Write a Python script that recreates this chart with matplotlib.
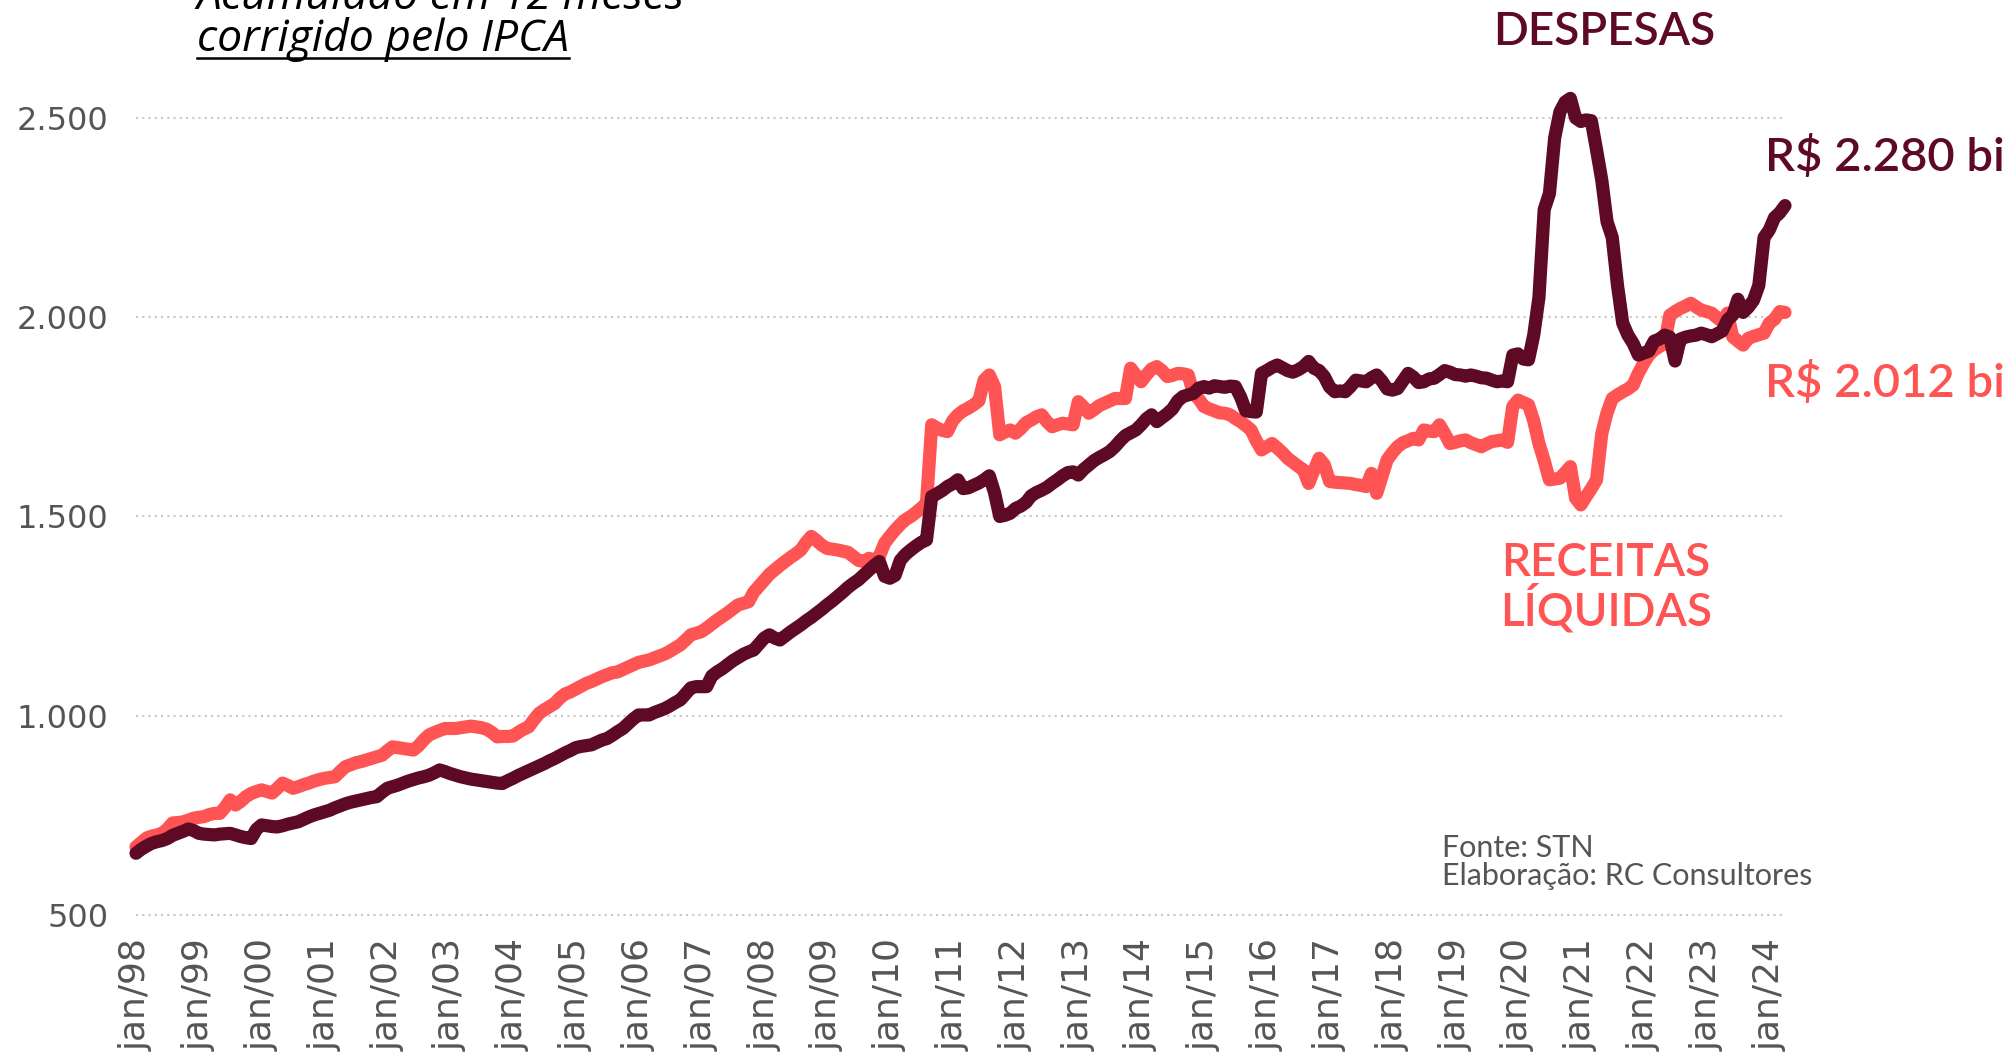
import matplotlib
matplotlib.use('Agg')
import numpy as np
import pandas as pd
import matplotlib.pyplot as plt
from matplotlib.lines import Line2D

# meses: jan/98 .. abr/24
meses = pd.date_range('1998-01-01', periods=316, freq='MS')
rotulos_x = [f"jan/{d.year % 100:02d}" for d in meses if d.month == 1]

y_ticks = [500, 1000, 1500, 2000, 2500]
y_rotulos = ['500', '1.000', '1.500', '2.000', '2.500']

# despesas, acumulado 12 meses (R$ bi, corrigido IPCA)
despesas = [
    655, 665, 673, 680, 684, 687, 692, 700, 705, 710, 716, 712,
    705, 703, 702, 701, 703, 704, 705, 701, 697, 694, 692, 715,
    726, 724, 722, 721, 724, 728, 731, 734, 740, 746, 751, 755,
    759, 763, 769, 774, 779, 783, 786, 789, 792, 795, 797, 808,
    818, 822, 826, 831, 836, 840, 844, 847, 851, 857, 864, 860,
    855, 851, 847, 844, 841, 839, 837, 835, 833, 831, 830, 837,
    843, 850, 856, 862, 868, 874, 880, 887, 893, 900, 907, 913,
    920, 923, 925, 927, 933, 939, 943, 951, 960, 968, 980, 992,
    1002, 1002, 1002, 1008, 1013, 1018, 1025, 1033, 1040, 1055, 1070, 1073,
    1073, 1073, 1100, 1110, 1118, 1128, 1138, 1146, 1154, 1160, 1165, 1180,
    1195, 1203, 1195, 1190, 1200, 1210, 1219, 1228, 1238, 1247, 1257, 1267,
    1278, 1288, 1299, 1310, 1322, 1332, 1341, 1353, 1365, 1377, 1387, 1350,
    1345, 1352, 1390, 1405, 1416, 1426, 1435, 1441, 1550, 1557, 1565, 1575,
    1582, 1592, 1570, 1572, 1578, 1584, 1592, 1602, 1560, 1500, 1503, 1508,
    1520, 1526, 1535, 1552, 1560, 1566, 1573, 1583, 1592, 1602, 1610, 1612,
    1604, 1618, 1629, 1640, 1648, 1655, 1663, 1675, 1690, 1703, 1710, 1717,
    1730, 1745, 1755, 1738, 1748, 1758, 1770, 1790, 1801, 1805, 1809, 1822,
    1826, 1822, 1828, 1826, 1824, 1827, 1826, 1800, 1765, 1763, 1762, 1859,
    1866, 1874, 1880, 1873, 1866, 1862, 1868, 1876, 1889, 1872, 1866, 1851,
    1825, 1813, 1815, 1813, 1826, 1842, 1840, 1838, 1848, 1855, 1840, 1820,
    1817, 1821, 1840, 1859, 1850, 1836, 1838, 1845, 1847, 1856, 1866, 1862,
    1856, 1855, 1852, 1855, 1852, 1848, 1847, 1842, 1838, 1840, 1838, 1905,
    1908, 1895, 1893, 1955, 2050, 2270, 2310, 2450, 2515, 2540, 2549, 2500,
    2491, 2495, 2493, 2420, 2344, 2240, 2200, 2080, 1985, 1955, 1934, 1905,
    1910, 1915, 1940, 1945, 1955, 1950, 1890, 1945, 1950, 1953, 1955, 1960,
    1956, 1951, 1958, 1965, 1993, 2005, 2045, 2012, 2025, 2043, 2080, 2200,
    2219, 2250, 2262, 2280,
]

# receitas liquidas
receitas = [
    671, 682, 693, 698, 701, 705, 716, 731, 732, 734, 738, 743,
    745, 747, 752, 755, 755, 770, 789, 776, 785, 797, 805, 810,
    814, 810, 806, 818, 831, 825, 818, 822, 827, 831, 836, 840,
    843, 845, 847, 860, 872, 877, 882, 885, 889, 893, 897, 901,
    912, 922, 920, 918, 916, 914, 925, 940, 952, 958, 963, 968,
    968, 968, 970, 972, 974, 972, 970, 966, 958, 947, 948, 948,
    949, 958, 966, 972, 990, 1006, 1015, 1023, 1031, 1045, 1055, 1060,
    1067, 1074, 1081, 1086, 1092, 1098, 1103, 1108, 1110, 1116, 1122, 1128,
    1134, 1137, 1140, 1145, 1150, 1155, 1162, 1170, 1178, 1190, 1203, 1207,
    1211, 1220, 1230, 1240, 1249, 1258, 1268, 1278, 1282, 1286, 1310, 1325,
    1340, 1355, 1366, 1377, 1387, 1397, 1406, 1416, 1435, 1450, 1440, 1428,
    1420, 1418, 1416, 1413, 1410, 1400, 1390, 1387, 1395, 1390, 1400, 1433,
    1450, 1466, 1480, 1492, 1500, 1510, 1521, 1533, 1730, 1722, 1716, 1713,
    1740, 1755, 1765, 1772, 1780, 1790, 1842, 1855, 1826, 1705, 1712, 1717,
    1709, 1720, 1735, 1742, 1750, 1755, 1738, 1725, 1730, 1734, 1732, 1730,
    1788, 1775, 1759, 1768, 1778, 1784, 1790, 1796, 1796, 1796, 1872, 1855,
    1838, 1855, 1870, 1876, 1866, 1851, 1854, 1859, 1858, 1855, 1809, 1795,
    1776, 1770, 1765, 1760, 1759, 1755, 1746, 1738, 1728, 1717, 1690, 1667,
    1675, 1683, 1672, 1660, 1646, 1636, 1626, 1617, 1583, 1615, 1646, 1630,
    1588, 1586, 1585, 1584, 1583, 1580, 1578, 1575, 1608, 1558, 1600, 1642,
    1660, 1675, 1685, 1690, 1696, 1692, 1717, 1714, 1713, 1730, 1708, 1683,
    1686, 1690, 1692, 1685, 1680, 1675, 1682, 1688, 1690, 1692, 1686, 1776,
    1792, 1786, 1780, 1740, 1683, 1640, 1592, 1594, 1596, 1610, 1625, 1546,
    1529, 1550, 1570, 1592, 1708, 1760, 1796, 1805, 1813, 1820, 1830, 1860,
    1884, 1905, 1918, 1926, 1934, 2005, 2014, 2022, 2028, 2035, 2026, 2018,
    2014, 2010, 1999, 1989, 2010, 1951, 1940, 1930, 1947, 1952, 1956, 1960,
    1985, 1995, 2014, 2012,
]

COR_DESP = '#5E0A24'
COR_REC = '#FF5454'
CINZA = '#555555'

W, H = 2015, 1057


def px(x, y):
    return x / W, 1 - y / H


fig = plt.figure(figsize=(W / 100, H / 100), dpi=100)
ax = fig.add_axes([136 / W, 1 - 923 / H, (1785 - 136) / W, (923 - 94) / H])

x = np.arange(len(despesas))
ax.plot(x, receitas, color=COR_REC, lw=9.5, solid_joinstyle='round',
        solid_capstyle='round', zorder=3, clip_on=False)
ax.plot(x, despesas, color=COR_DESP, lw=9.5, solid_joinstyle='round',
        solid_capstyle='round', zorder=4, clip_on=False)

ax.set_xlim(0, len(x) - 1)
ax.set_ylim(480, 2560)
for s in ax.spines.values():
    s.set_visible(False)

ax.set_yticks(y_ticks)
ax.set_yticklabels(y_rotulos, family='DejaVu Sans', fontsize=23)
ax.grid(axis='y', color='#c8c8c8', linestyle=(0, (1, 2)), lw=1.5, zorder=0)
ax.set_xticks(x[::12])
ax.set_xticklabels(rotulos_x, rotation=90, family='DejaVu Sans', fontsize=26)
ax.tick_params(length=0, colors=CINZA)
ax.tick_params(axis='y', pad=20)
ax.tick_params(axis='x', pad=11)

# titulo (cortado no topo, como no original)
fig.text(*px(197, 9), 'Acumulado em 12 meses', family='Open Sans', style='italic',
         fontsize=32, color='black', va='baseline', ha='left')
t2 = fig.text(*px(197, 51), 'corrigido pelo IPCA', family='Open Sans', style='italic',
              fontsize=32, color='black', va='baseline', ha='left')

fig.text(*px(1604, 32), 'DESPESAS', family='Lato', fontsize=33, weight='semibold',
         color=COR_DESP, ha='center', va='center')
fig.text(*px(2005, 157), 'R$ 2.280 bi', family='Lato', fontsize=34, weight='semibold',
         color=COR_DESP, ha='right', va='center')
fig.text(*px(2005, 383), 'R$ 2.012 bi', family='Lato', fontsize=34, weight='semibold',
         color=COR_REC, ha='right', va='center')
fig.text(*px(1606, 588), 'RECEITAS\nLÍQUIDAS', family='Lato', fontsize=33, weight='semibold',
         color=COR_REC, ha='center', va='center', multialignment='center', linespacing=1.0)
fig.text(*px(1442, 862), 'Fonte: STN\nElaboração: RC Consultores', family='Lato',
         fontsize=22, color=CINZA, ha='left', va='center', linespacing=1.0)

# sublinhado do titulo
fig.canvas.draw()
bb = t2.get_window_extent()
fig.add_artist(Line2D([bb.x0 / W, bb.x1 / W], [1 - 58 / H, 1 - 58 / H],
                      color='black', lw=1.8, transform=fig.transFigure))

fig.savefig('out.png', dpi=100)
